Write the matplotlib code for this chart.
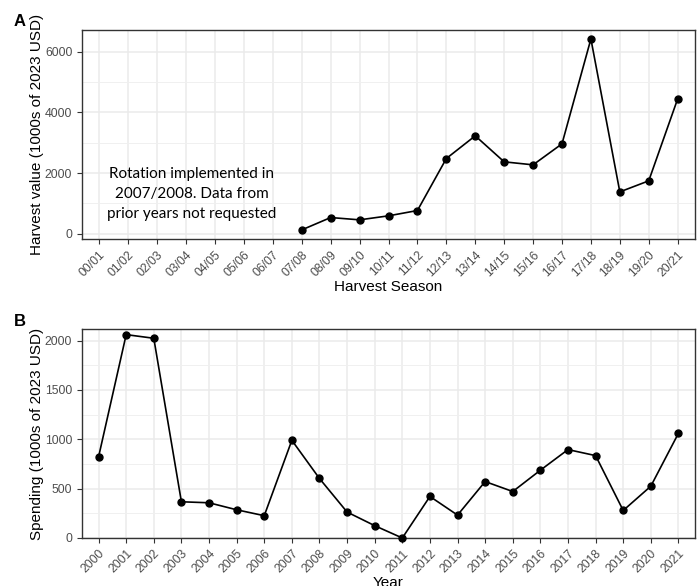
import numpy as np
import matplotlib
matplotlib.use('Agg')
import matplotlib.pyplot as plt

# harvest value by season (1000s of 2023 USD); no data before 07/08
seasons = ['00/01', '01/02', '02/03', '03/04', '04/05', '05/06', '06/07',
           '07/08', '08/09', '09/10', '10/11', '11/12', '12/13', '13/14',
           '14/15', '15/16', '16/17', '17/18', '18/19', '19/20', '20/21']
harvest = [np.nan, np.nan, np.nan, np.nan, np.nan, np.nan, np.nan,
           130, 537, 461, 593, 768, 2481, 3229,
           2372, 2273, 2965, 6420, 1382, 1746, 4445]

# spending by year (1000s of 2023 USD)
years = [str(y) for y in range(2000, 2022)]
spending = [822, 2061, 2024, 367, 357, 286, 226, 990, 603, 263, 125,
            0, 421, 232, 572, 471, 687, 896, 835, 279, 525, 1061]

note = 'Rotation implemented in\n2007/2008. Data from\nprior years not requested'

plt.rcParams['font.family'] = ['Liberation Sans', 'DejaVu Sans']

W, H = 699, 586
fig = plt.figure(figsize=(W / 100, H / 100), dpi=100)

def px_axes(left, top, right, bottom):
    return fig.add_axes([left / W, 1 - bottom / H, (right - left) / W, (bottom - top) / H])

def style(ax, n, major, minor):
    ax.set_xlim(0.4, n + 0.6)
    ax.set_xticks(np.arange(1, n + 1))
    ax.set_yticks(major)
    ax.set_yticks(minor, minor=True)
    ax.grid(True, which='major', color='#ebebeb', lw=1.1, zorder=0)
    ax.grid(True, which='minor', axis='y', color='#f0f0f0', lw=0.7, zorder=0)
    ax.set_axisbelow(True)
    for s in ax.spines.values():
        s.set_color('#333333')
        s.set_linewidth(1.0)
    ax.tick_params(which='major', length=3.5, width=0.8, color='#333333',
                   labelcolor='#4d4d4d', labelsize=8.8)
    ax.tick_params(which='minor', length=0)

# panel A
axA = px_axes(82, 30, 695, 239)
xA = np.arange(1, len(seasons) + 1)
axA.plot(xA, harvest, color='black', lw=1.2, marker='o', ms=5, zorder=3)
style(axA, len(seasons), [0, 2000, 4000, 6000], [1000, 3000, 5000])
axA.set_ylim(-170, 6715)
axA.set_xticklabels(seasons, rotation=45, ha='right', rotation_mode='anchor')
axA.set_xlabel('Harvest Season', fontsize=11, labelpad=1)
axA.set_ylabel('Harvest value (1000s of 2023 USD)', fontsize=11, labelpad=1)
axA.text(4.2, 1320, note, ha='center', va='center', multialignment='center',
         fontsize=11, family='Lato', linespacing=1.55)

# panel B
axB = px_axes(82, 329, 695, 538)
xB = np.arange(1, len(years) + 1)
axB.plot(xB, spending, color='black', lw=1.2, marker='o', ms=5, zorder=3, clip_on=False)
style(axB, len(years), [0, 500, 1000, 1500, 2000], [250, 750, 1250, 1750])
axB.set_ylim(0, 2118)
axB.set_xticklabels(years, rotation=45, ha='right', rotation_mode='anchor')
axB.set_xlabel('Year', fontsize=11, labelpad=0)
axB.set_ylabel('Spending (1000s of 2023 USD)', fontsize=11, labelpad=1)

fig.text(14 / W, 1 - 22 / H, 'A', fontsize=12, fontweight='bold', va='center')
fig.text(14 / W, 1 - 322 / H, 'B', fontsize=12, fontweight='bold', va='center')

fig.savefig('out.png', dpi=100)
